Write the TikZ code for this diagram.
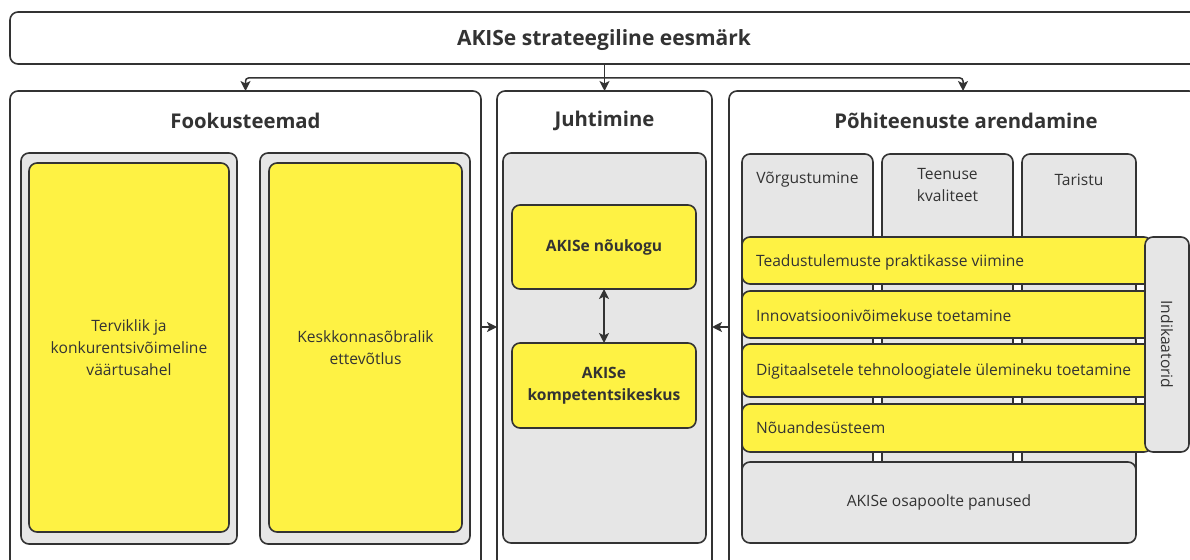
\documentclass[tikz,border=0pt]{standalone}
\usepackage{fontspec}
\setmainfont{Open Sans}
\usetikzlibrary{arrows.meta}
\definecolor{ylw}{RGB}{254,242,68}
\definecolor{gry}{RGB}{230,230,230}
\definecolor{ink}{RGB}{51,51,51}
\begin{document}
\begin{tikzpicture}[x=1pt,y=-1pt,
  every node/.style={inner sep=0pt, outer sep=0pt, text=ink},
  outerbox/.style={draw=ink, line width=1.6pt, fill=white, rounded corners=8pt},
  graybox/.style={draw=ink, line width=1.6pt, fill=gry, rounded corners=8pt},
  ylwbox/.style={draw=ink, line width=1.6pt, fill=ylw, rounded corners=8pt},
  title/.style={font=\fontsize{20.3}{24}\selectfont\bfseries},
  bodytxt/.style={font=\fontsize{15.6}{22}\selectfont, align=center},
  boldtxt/.style={font=\fontsize{15.6}{22}\selectfont\bfseries, align=center},
  bartxt/.style={font=\fontsize{15.6}{18}\selectfont, anchor=west},
  conn/.style={draw=ink, line width=1.5pt},
  tip/.style={-{Stealth[length=10pt,width=10pt,inset=2.5pt]}}
]
\useasboundingbox (0,0) rectangle (1190,559);
\clip (0,0) rectangle (1190,559);
% top
\node[outerbox, minimum width=1190pt, minimum height=52pt] (top) at (605,38) {};
\node[title, font=\fontsize{21}{24}\selectfont\bfseries] (toptxt) at (604,40) {AKISe strateegiline eesmärk};
% outer boxes
\node[outerbox, minimum width=471pt, minimum height=509pt] (fook) at (245.5,345.5) {};
\node[outerbox, minimum width=215pt, minimum height=509pt] (juht) at (604.5,345.5) {};
\node[outerbox, minimum width=468pt, minimum height=509pt] (pohi) at (963,345.5) {};
\node[title] (fooktxt) at (245.5,121) {Fookusteemad};
\node[title] (juhttxt) at (604.5,121) {Juhtimine};
\node[title] (pohitxt) at (966,121) {Põhiteenuste arendamine};
% connectors from top
\coordinate (split) at (603,78);
\draw[conn,tip] (top.south -| juht.north) -- (juht.north);
\draw[conn,tip,rounded corners=3pt] (split) -| (fook.north);
\draw[conn,tip,rounded corners=3pt] (split) -| (pohi.north);
% Fookusteemad inner
\node[graybox, minimum width=216pt, minimum height=391pt] (g1) at (129,348.5) {};
\node[graybox, minimum width=210pt, minimum height=391pt] (g2) at (365,348.5) {};
\node[ylwbox, minimum width=200pt, minimum height=369pt, bodytxt] (y1) at (129,347.5) {Terviklik ja\\konkurentsivõimeline\\väärtusahel};
\node[ylwbox, minimum width=193pt, minimum height=369pt, bodytxt] (y2) at (365.5,347.5) {Keskkonnasõbralik\\ettevõtlus};
% Juhtimine inner
\node[graybox, minimum width=203pt, minimum height=390pt] (g3) at (604.5,348) {};
\node[ylwbox, minimum width=184pt, minimum height=84pt, boldtxt] (nou) at (604,247) {AKISe nõukogu};
\node[ylwbox, minimum width=184pt, minimum height=85pt, boldtxt] (komp) at (604,385.5) {AKISe\\kompetentsikeskus};
\draw[conn,{Stealth[length=10pt,width=10pt,inset=2.5pt]}-{Stealth[length=10pt,width=10pt,inset=2.5pt]}] (nou.south) -- (komp.north);
% side arrows
\draw[conn,tip] (fook.east |- 0,327) -- (juht.west |- 0,327);
\draw[conn,tip] (pohi.west |- 0,327) -- (juht.east |- 0,327);
% Pohiteenuste columns
\node[graybox, minimum width=131pt, minimum height=326pt] (c1) at (807.5,317) {};
\node[graybox, minimum width=131pt, minimum height=326pt] (c2) at (947.5,317) {};
\node[graybox, minimum width=114pt, minimum height=326pt] (c3) at (1079,317) {};
\node[bodytxt] (c1t) at (807.5,180) {Võrgustumine};
\node[bodytxt, anchor=north] (c2t) at (947.5,168) {Teenuse\\kvaliteet};
\node[bodytxt] (c3t) at (1079,180) {Taristu};
% bars
\node[ylwbox, minimum width=410pt, minimum height=47pt] (b1) at (947,260.5) {};
\node[ylwbox, minimum width=410pt, minimum height=47pt] (b2) at (947,314.5) {};
\node[ylwbox, minimum width=410pt, minimum height=53pt] (b3) at (947,370.5) {};
\node[ylwbox, minimum width=410pt, minimum height=48pt] (b4) at (947,428) {};
\node[bartxt] (b1t) at (756,262) {Teadustulemuste praktikasse viimine};
\node[bartxt] (b2t) at (756,316) {Innovatsioonivõimekuse toetamine};
\node[bartxt] (b3t) at (756,371) {Digitaalsetele tehnoloogiatele ülemineku toetamine};
\node[bartxt] (b4t) at (756,428) {Nõuandesüsteem};
% indikaatorid
\node[graybox, minimum width=44pt, minimum height=215pt] (ind) at (1167,344.5) {};
\node[font=\fontsize{15.6}{18}\selectfont, rotate=-90] (indt) at (1167,344.5) {Indikaatorid};
% panused
\node[graybox, minimum width=394pt, minimum height=81pt, bodytxt] (pan) at (939,502.5) {AKISe osapoolte panused};
\end{tikzpicture}
\end{document}
